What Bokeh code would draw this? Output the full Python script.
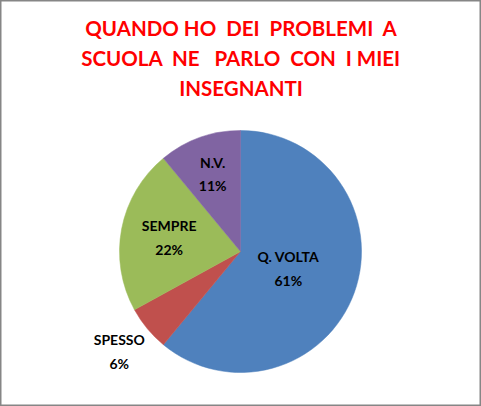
import math
from bokeh.plotting import figure
from bokeh.models import ColumnDataSource
from bokeh.core.properties import value
from bokeh.embed import file_html
from bokeh.resources import INLINE

# ---- data ----
NB = "\u00a0"
title_lines = ["QUANDO HO " + NB + "DEI " + NB + "PROBLEMI " + NB + "A",
               "SCUOLA " + NB + "NE " + NB + NB + "PARLO " + NB + "CON " + NB + "I MIEI",
               "INSEGNANTI"]
categories = ["Q. VOLTA", "SPESSO", "SEMPRE", "N.V."]
values = [61, 6, 22, 11]

# ---- styles ----
colors = ["#4F81BD", "#C0504D", "#9BBB59", "#8064A2"]
label_dist = [0.42, 1.3, 0.6, 0.68]
W, H = 481, 406
cx, cy, r = 240, H - 251, 121
FONT = "Lato"

total = sum(values)
starts, ends, lx, ly, labels = [], [], [], [], []
cum = 0
for v, d in zip(values, label_dist):
    a0 = math.pi / 2 - 2 * math.pi * cum / total
    cum += v
    a1 = math.pi / 2 - 2 * math.pi * cum / total
    starts.append(a0)
    ends.append(a1)
    mid = (a0 + a1) / 2
    lx.append(cx + d * r * math.cos(mid))
    ly.append(cy + d * r * math.sin(mid))
for c, v in zip(categories, values):
    labels.append(f"{c}\n{round(100 * v / total)}%")

src = ColumnDataSource(dict(start=starts, end=ends, color=colors, lx=lx, ly=ly, label=labels))

p = figure(width=W, height=H, x_range=(0, W), y_range=(0, H), output_backend="svg",
           toolbar_location=None, min_border=0, match_aspect=False)
p.axis.visible = False
p.grid.visible = False
p.background_fill_color = "white"
p.border_fill_color = "white"
p.outline_line_color = "#868686"
p.outline_line_width = 2

p.wedge(x=cx, y=cy, radius=r, start_angle="start", end_angle="end", direction="clock",
        fill_color="color", line_color="color", line_width=0.5, source=src)

p.text(x="lx", y="ly", text="label", source=src, text_font=value(FONT), text_font_style="bold",
       text_font_size="14px", text_align="center", text_baseline="middle",
       text_color="black", text_line_height=1.4)

ty = [H - 27, H - 57, H - 87]
p.text(x=[W / 2] * 3, y=ty, text=title_lines, text_font=value(FONT), text_font_style="bold",
       text_font_size="20.5px", text_align="center", text_baseline="middle", text_color="#FF0000")

open("out.html", "w").write(file_html(p, INLINE))
